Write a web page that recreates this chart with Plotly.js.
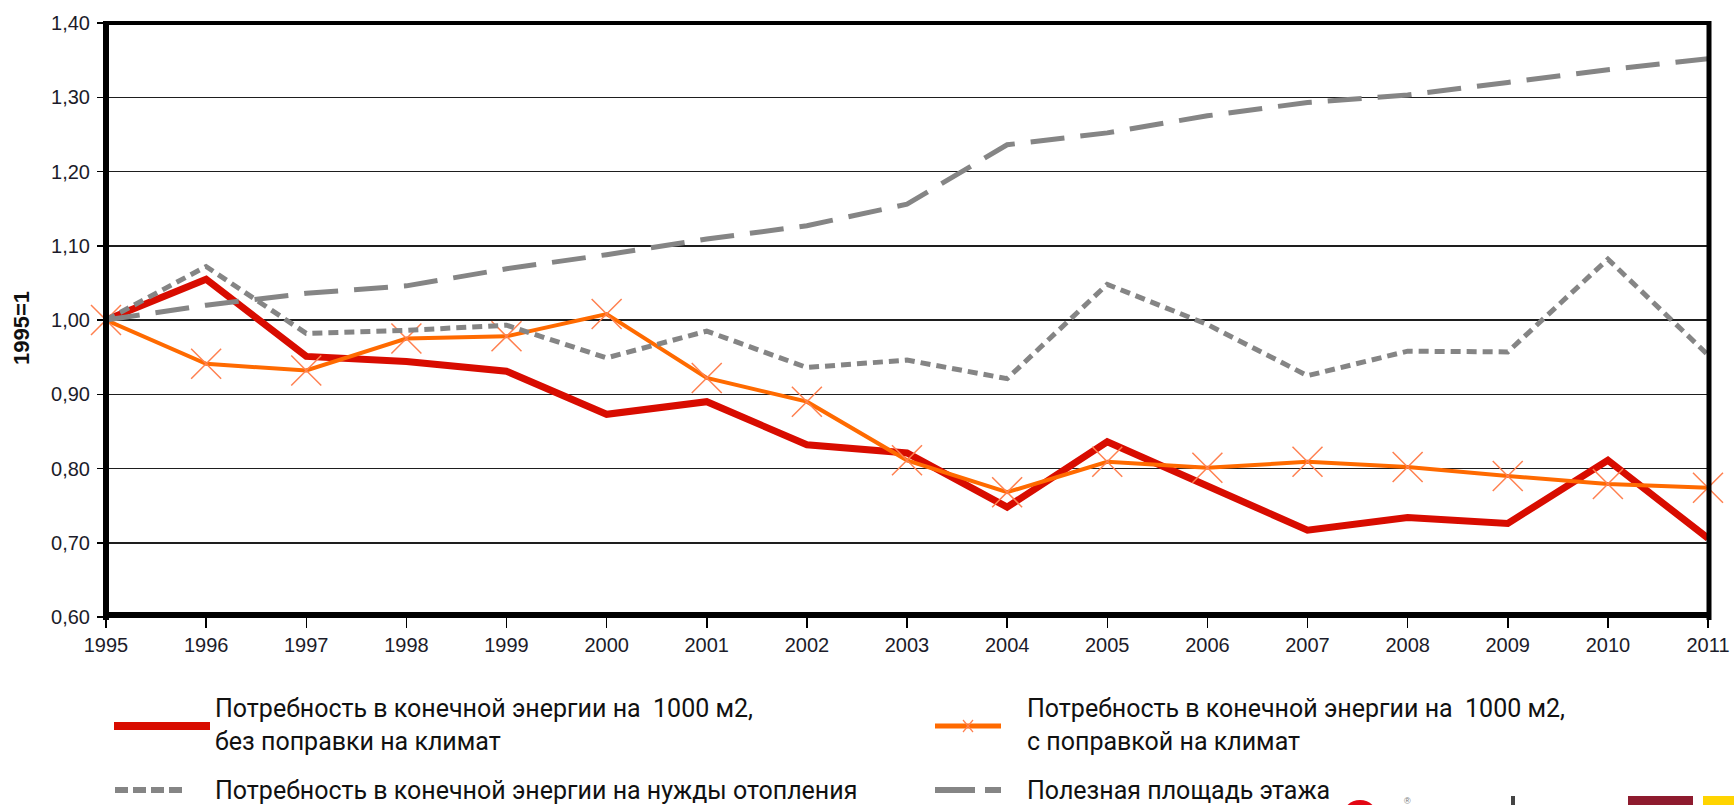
<!DOCTYPE html>
<html>
<head>
<meta charset="utf-8">
<script src="https://cdn.plot.ly/plotly-3.0.1.min.js"></script>
<style>
html,body{margin:0;padding:0;background:#fff;}
#chart{width:1734px;height:805px;}
</style>
</head>
<body>
<div id="chart"></div>
<script>
// ---- data ----
const years = [1995,1996,1997,1998,1999,2000,2001,2002,2003,2004,2005,2006,2007,2008,2009,2010,2011];
const yearLabels = years.map(String);
const energyNoClimate = [1.000,1.055,0.951,0.944,0.931,0.873,0.890,0.832,0.821,0.748,0.836,0.777,0.717,0.734,0.726,0.811,0.706];
const energyClimate   = [1.000,0.941,0.932,0.975,0.978,1.008,0.922,0.890,0.811,0.768,0.809,0.801,0.809,0.802,0.790,0.779,0.774];
const energyHeating   = [1.000,1.072,0.982,0.986,0.993,0.949,0.985,0.936,0.946,0.921,1.048,0.994,0.925,0.958,0.957,1.082,0.953];
const floorArea       = [1.000,1.020,1.036,1.046,1.069,1.088,1.109,1.127,1.156,1.236,1.252,1.275,1.293,1.303,1.320,1.337,1.352];
const yTickVals   = [0.6,0.7,0.8,0.9,1.0,1.1,1.2,1.3,1.4];
const yTickLabels = ['0,60','0,70','0,80','0,90','1,00','1,10','1,20','1,30','1,40'];
const seriesNames = [
  'Потребность в конечной энергии на \u00a01000 м2,<br>без поправки на климат',
  'Потребность в конечной энергии на \u00a01000 м2,<br>с поправкой на климат',
  'Потребность в конечной энергии на нужды отопления',
  'Полезная площадь этажа'
];
const yTitle = '1995=1';

// ---- layout helpers (pixel -> paper) ----
const W = 1734, H = 805, ML = 106, MR = 26, MT = 23, MB = 188;
const PW = W - ML - MR, PH = H - MT - MB, BOT = H - MB;
const px = x => (x - ML) / PW;
const py = y => (BOT - y) / PH;

const RED = '#d80c00', ORANGE = '#ff6a00', XMARK = '#ff8050', GRAY = '#858585';

const traces = [
  {x: years, y: energyNoClimate, type: 'scatter', mode: 'lines', name: seriesNames[0],
   line: {color: RED, width: 7}},
  {x: years, y: energyClimate, type: 'scatter', mode: 'lines+markers', name: seriesNames[1],
   line: {color: ORANGE, width: 4},
   marker: {symbol: 'x-thin-open', size: 30, color: XMARK, line: {color: XMARK, width: 1.5}},
   cliponaxis: false},
  {x: years, y: energyHeating, type: 'scatter', mode: 'lines', name: seriesNames[2],
   line: {color: GRAY, width: 5, dash: '10px,6px'}},
  {x: years, y: floorArea, type: 'scatter', mode: 'lines', name: seriesNames[3],
   line: {color: GRAY, width: 5, dash: '34px,16px'}}
];

const legFont = {family: '"Liberation Sans Narrow", "Arial Narrow", Roboto, sans-serif', size: 25, color: '#111'};

const shapes = [
  // frame
  {type:'line', xref:'paper', yref:'paper', x0:0, x1:0, y0:py(BOT+3), y1:py(MT-2), line:{color:'#000', width:6}, layer:'above'},
  {type:'line', xref:'paper', yref:'paper', x0:px(ML-3), x1:px(W-MR+3), y0:py(BOT-2), y1:py(BOT-2), line:{color:'#000', width:6}, layer:'above'},
  {type:'line', xref:'paper', yref:'paper', x0:px(ML-3), x1:px(W-MR+2), y0:1, y1:1, line:{color:'#000', width:4}, layer:'above'},
  {type:'line', xref:'paper', yref:'paper', x0:px(W-MR+1), x1:px(W-MR+1), y0:py(BOT+3), y1:py(MT-2), line:{color:'#000', width:5}, layer:'above'},
  // legend symbols
  {type:'line', xref:'paper', yref:'paper', x0:px(114), x1:px(210), y0:py(726), y1:py(726), line:{color:RED, width:8}},
  {type:'line', xref:'paper', yref:'paper', x0:px(935), x1:px(1001), y0:py(726), y1:py(726), line:{color:ORANGE, width:5}},
  {type:'line', xref:'paper', yref:'paper', x0:px(963), x1:px(973), y0:py(720), y1:py(732), line:{color:XMARK, width:1.2}},
  {type:'line', xref:'paper', yref:'paper', x0:px(963), x1:px(973), y0:py(732), y1:py(720), line:{color:XMARK, width:1.2}},
  {type:'line', xref:'paper', yref:'paper', x0:px(115), x1:px(183), y0:py(790), y1:py(790), line:{color:GRAY, width:6, dash:'13px,5px'}},
  {type:'line', xref:'paper', yref:'paper', x0:px(935), x1:px(1001), y0:py(790), y1:py(790), line:{color:GRAY, width:6, dash:'40px,10px'}},
  // cut-off logos at bottom right
  {type:'circle', xref:'paper', yref:'paper', x0:px(1342), x1:px(1378), y0:py(800), y1:py(836), fillcolor:'#e30613', line:{width:0}},
  {type:'rect', xref:'paper', yref:'paper', x0:px(1511), x1:px(1515), y0:py(796), y1:py(806), fillcolor:'#444', line:{width:0}},
  {type:'rect', xref:'paper', yref:'paper', x0:px(1628), x1:px(1693), y0:py(796), y1:py(806), fillcolor:'#8e1b2e', line:{width:0}},
  {type:'rect', xref:'paper', yref:'paper', x0:px(1703), x1:px(1736), y0:py(796), y1:py(806), fillcolor:'#ffd400', line:{width:0}}
];

const annotations = [
  {xref:'paper', yref:'paper', x:px(213), y:py(725), xanchor:'left', yanchor:'middle', align:'left', showarrow:false, text:seriesNames[0], font:legFont},
  {xref:'paper', yref:'paper', x:px(1025), y:py(725), xanchor:'left', yanchor:'middle', align:'left', showarrow:false, text:seriesNames[1], font:legFont},
  {xref:'paper', yref:'paper', x:px(213), y:py(790), xanchor:'left', yanchor:'middle', align:'left', showarrow:false, text:seriesNames[2], font:legFont},
  {xref:'paper', yref:'paper', x:px(1025), y:py(790), xanchor:'left', yanchor:'middle', align:'left', showarrow:false, text:seriesNames[3], font:legFont},
  {xref:'paper', yref:'paper', x:px(1407), y:py(801), xanchor:'center', yanchor:'middle', showarrow:false, text:'®', font:{size:9, color:'#777'}},
  {xref:'paper', yref:'paper', x:px(22), y:py(328), xanchor:'center', yanchor:'middle', textangle:-90, showarrow:false,
   text:'<b>' + yTitle + '</b>', font:{family:'"Liberation Sans", Arial, sans-serif', size:22, color:'#111'}}
];

const layout = {
  width: W, height: H,
  margin: {l: ML, r: MR, t: MT, b: MB, pad: 0},
  paper_bgcolor: '#fff', plot_bgcolor: '#fff',
  showlegend: false,
  font: {family: '"Liberation Sans", Arial, sans-serif', size: 20, color: '#1c1c2a'},
  xaxis: {
    range: [1995, 2011], tickvals: years, ticktext: yearLabels,
    showgrid: false, zeroline: false, showline: false,
    ticks: 'outside', ticklen: 10, tickwidth: 1.5, tickcolor: '#000',
    tickfont: {size: 20}
  },
  yaxis: {
    range: [0.6, 1.4], tickvals: yTickVals, ticktext: yTickLabels,
    showgrid: true, gridcolor: '#1e1e1e', gridwidth: 1.5, zeroline: false, showline: false,
    ticks: 'outside', ticklen: 8, tickwidth: 1.5, tickcolor: '#000',
    ticklabelstandoff: 3,
    tickfont: {size: 20}
  },
  shapes: shapes,
  annotations: annotations
};

Plotly.newPlot('chart', traces, layout, {staticPlot: true, displayModeBar: false});
</script>
</body>
</html>
